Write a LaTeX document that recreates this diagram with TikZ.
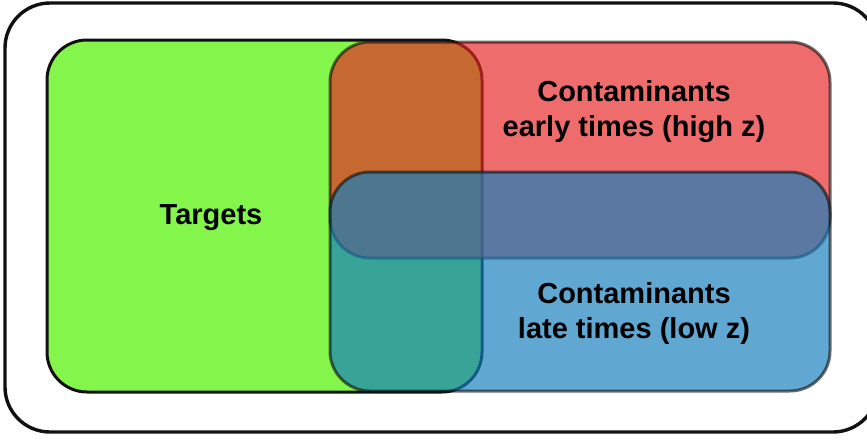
\documentclass[tikz,border=0pt]{standalone}
\usepackage{fontspec}
\setmainfont{Liberation Sans}
\usetikzlibrary{positioning}
\definecolor{TargetGreen}{HTML}{84F54A}
\definecolor{EarlyRed}{HTML}{E72525}
\definecolor{LateBlue}{HTML}{157FBD}
\definecolor{EdgeBlack}{HTML}{111111}
\tikzset{
  frame/.style={draw=EdgeBlack, line width=3.4pt, rounded corners=45pt, fill=white},
  targetbox/.style={draw=EdgeBlack, line width=3pt, rounded corners=40pt, fill=TargetGreen, inner sep=0pt},
  earlybox/.style={draw=EdgeBlack, line width=3pt, rounded corners=40pt, fill=EarlyRed, fill opacity=0.67, draw opacity=0.62, inner sep=0pt},
  latebox/.style={draw=EdgeBlack, line width=3pt, rounded corners=40pt, fill=LateBlue, fill opacity=0.68, draw opacity=0.62, inner sep=0pt},
  boxlabel/.style={align=center, font=\fontsize{29}{35}\selectfont\bfseries, text=black, inner sep=0pt}
}

\begin{document}
\begin{tikzpicture}[x=1pt, y=-1pt]
\clip (0,0) rectangle (867,439);
\node[frame, minimum width=873pt, minimum height=429pt] (outer) at (441.5,217.5) {};
\node[targetbox, minimum width=435pt, minimum height=352pt] (targets) at (264.5,216) {};
\node[earlybox, minimum width=500pt, minimum height=216pt] (early) at (580,150) {};
\node[latebox, minimum width=500pt, minimum height=219pt] (late) at (580,281.5) {};
\node[boxlabel] (targetstxt) at (211,218) {Targets};
\node[boxlabel] (earlytxt) at (634,112) {Contaminants\\early times (high z)};
\node[boxlabel] (latetxt) at (634,313) {Contaminants\\late times (low z)};
\end{tikzpicture}
\end{document}
